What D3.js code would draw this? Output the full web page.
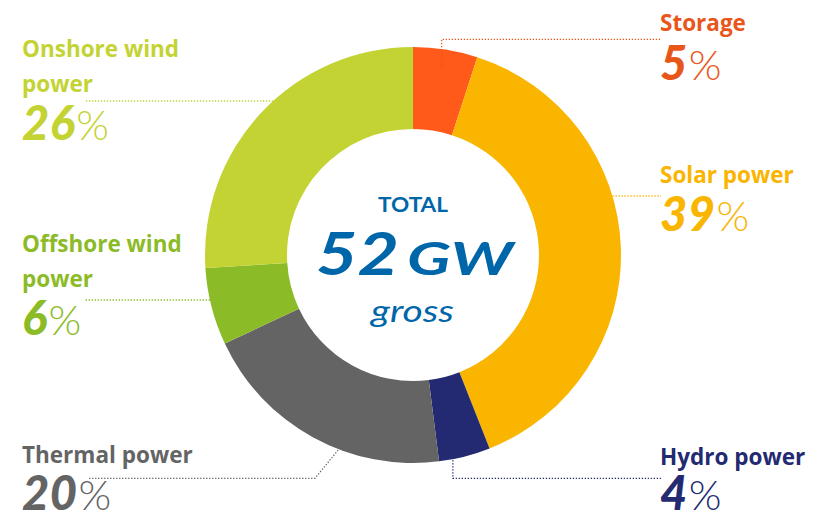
<!DOCTYPE html>
<html>
<head>
<meta charset="utf-8">
<script src="https://cdn.jsdelivr.net/npm/d3@7"></script>
<style>
  html, body { margin: 0; padding: 0; background: #fff; }
  svg { display: block; font-family: 'Open Sans', Lato, sans-serif; }
</style>
</head>
<body>
<svg id="chart" width="824" height="517"></svg>
<script>
// data, clockwise from 12 o'clock
const categories = ['Storage', 'Solar power', 'Hydro power', 'Thermal power', 'Offshore wind power', 'Onshore wind power']
const shares = [5, 39, 4, 20, 6, 26]
const arcColors = ['#ff5a19', '#f9b500', '#232a72', '#646464', '#8bbb26', '#c3d333']
const textColors = ['#e9561a', '#f9b500', '#232a72', '#646464', '#8bbb26', '#c3d333']
const labelLines = [['Storage'], ['Solar power'], ['Hydro power'], ['Thermal power'], ['Offshore wind', 'power'], ['Onshore wind', 'power']]
const totalText = ['TOTAL', '52', 'GW', 'gross']

// label layout (x, name baseline, percent baseline)
const labelLayout = [
  { x: 660, y: 31, pctY: 80 },
  { x: 660, y: 183, pctY: 231 },
  { x: 660, y: 465, pctY: 510 },
  { x: 22, y: 463, pctY: 510 },
  { x: 22, y: 252, pctY: 335 },
  { x: 22, y: 57, pctY: 140 }
]

const width = 824
const height = 517
const cx = 413
const cy = 255
const outerR = 208
const innerR = 126

const svg = d3.select('#chart')

const pie = d3.pie().sort(null).value(d => d)
const arc = d3.arc().innerRadius(innerR).outerRadius(outerR)
const arcs = pie(shares)

const g = svg.append('g').attr('transform', `translate(${cx},${cy})`)

g.selectAll('path.slice')
  .data(arcs)
  .join('path')
  .attr('class', 'slice')
  .attr('fill', (d, i) => arcColors[i])
  .attr('d', arc)

// point on ring at angle a (radians from top, clockwise), relative to page
const ringPt = (a, r) => [cx + r * Math.sin(a), cy - r * Math.cos(a)]
const deg = a => a * Math.PI / 180
// x where a horizontal line at y meets the outer circle
const ringX = (y, side) => cx + side * Math.sqrt(outerR * outerR - (y - cy) * (y - cy))

// connector lines
const connectors = [
  [ringPt(arcs[0].startAngle + deg(8.7), 189), [441, 39.3], [661, 39.3]],
  [[ringX(196, 1), 196], [661, 196]],
  [ringPt(deg(169), outerR + 1), [452.7, 478.3], [661, 478.3]],
  [ringPt(deg(201), outerR + 1), [315, 478.3], [88, 478.3]],
  [[ringX(300, -1), 300], [85, 300]],
  [[ringX(101, -1), 101], [85, 101]]
]
// keep the verticals truly vertical
connectors[0][1][0] = connectors[0][0][0]
connectors[2][1][0] = connectors[2][0][0]

const line = d3.line()
svg.append('g')
  .selectAll('path')
  .data(connectors)
  .join('path')
  .attr('d', line)
  .attr('fill', 'none')
  .attr('stroke', (d, i) => textColors[i])
  .attr('stroke-width', 1.3)
  .attr('stroke-dasharray', '1.3 1.7')

// labels
const labels = svg.append('g')
  .selectAll('g')
  .data(categories)
  .join('g')

labels.each(function (d, i) {
  const el = d3.select(this)
  const lay = labelLayout[i]
  labelLines[i].forEach((t, j) => {
    el.append('text')
      .attr('x', lay.x)
      .attr('y', lay.y + j * 35)
      .attr('fill', textColors[i])
      .attr('font-size', 22.5)
      .attr('font-weight', 700)
      .text(t)
  })
  const pct = el.append('text')
    .attr('x', lay.x)
    .attr('y', lay.pctY)
    .attr('fill', textColors[i])
    .attr('font-family', 'Lato, sans-serif')
    .attr('font-size', 47)
  pct.append('tspan')
    .attr('font-weight', 900)
    .attr('font-style', 'italic')
    .attr('letter-spacing', 0.5)
    .text(shares[i])
  pct.append('tspan')
    .attr('font-weight', 300)
    .attr('font-size', 42)
    .attr('dx', 1)
    .text('%')
})

// centre text, stretched to the width of the reference lettering
const blue = '#0066aa'
const centre = svg.append('g')
  .attr('fill', blue)
  .attr('font-family', 'Lato, sans-serif')

centre.append('text')
  .attr('x', 378)
  .attr('y', 212)
  .attr('font-size', 21.5)
  .attr('font-weight', 700)
  .attr('textLength', 70)
  .attr('lengthAdjust', 'spacingAndGlyphs')
  .text(totalText[0])

centre.append('text')
  .attr('x', 316)
  .attr('y', 275)
  .attr('font-size', 59)
  .attr('font-weight', 700)
  .attr('font-style', 'italic')
  .attr('textLength', 83)
  .attr('lengthAdjust', 'spacingAndGlyphs')
  .text(totalText[1])

centre.append('text')
  .attr('x', 407)
  .attr('y', 275)
  .attr('font-size', 46)
  .attr('font-weight', 700)
  .attr('font-style', 'italic')
  .attr('textLength', 106)
  .attr('lengthAdjust', 'spacingAndGlyphs')
  .text(totalText[2])

centre.append('text')
  .attr('x', 371)
  .attr('y', 322)
  .attr('font-size', 31.5)
  .attr('font-style', 'italic')
  .attr('textLength', 83)
  .attr('lengthAdjust', 'spacingAndGlyphs')
  .text(totalText[3])
</script>
</body>
</html>
